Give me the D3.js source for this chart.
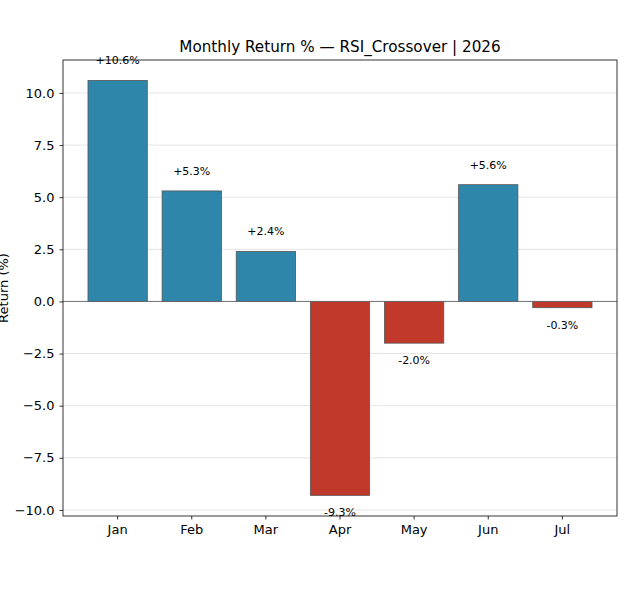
<!DOCTYPE html>
<html>
<head>
<meta charset="utf-8">
<script src="https://cdn.jsdelivr.net/npm/d3@7/dist/d3.min.js"></script>
<style>
  body{margin:0;background:#fff;}
  svg{font-family:"DejaVu Sans",sans-serif;}
</style>
</head>
<body>
<div id="chart"></div>
<script>
var months=["Jan","Feb","Mar","Apr","May","Jun","Jul"];
var returns=[10.6,5.3,2.4,-9.3,-2.0,5.6,-0.3];
var yTicks=[-10,-7.5,-5,-2.5,0,2.5,5,7.5,10];

var width=630,height=600;
var plotLeft=63,plotRight=617,plotTop=60,plotBottom=516;

var svg=d3.select("#chart").append("svg")
    .attr("width",width)
    .attr("height",height);

var xScale=d3.scaleBand()
    .domain(months)
    .range([plotLeft,plotRight])
    .paddingInner(0.2)
    .paddingOuter(0.337);

var yScale=d3.scaleLinear()
    .domain([-10.29,11.58])
    .range([plotBottom,plotTop]);

// grid
svg.append("g")
  .selectAll("line")
  .data(yTicks)
  .enter()
  .append("line")
  .attr("x1",plotLeft).attr("x2",plotRight)
  .attr("y1",function(d){return yScale(d);})
  .attr("y2",function(d){return yScale(d);})
  .attr("stroke","#dddddd")
  .attr("stroke-width",0.8);

// bars
svg.selectAll("rect.bar")
  .data(returns)
  .enter()
  .append("rect")
  .attr("class","bar")
  .attr("x",function(d,i){return xScale(months[i]);})
  .attr("y",function(d){return yScale(Math.max(d,0));})
  .attr("width",xScale.bandwidth())
  .attr("height",function(d){return Math.abs(yScale(d)-yScale(0));})
  .attr("fill",function(d){return d>=0?"#2e86ab":"#c0392b";})
  .attr("stroke","#555555")
  .attr("stroke-width",0.8);

// zero line
svg.append("line")
  .attr("x1",plotLeft).attr("x2",plotRight)
  .attr("y1",yScale(0)).attr("y2",yScale(0))
  .attr("stroke","#666666")
  .attr("stroke-width",0.9);

// value labels
svg.selectAll("text.val")
  .data(returns)
  .enter()
  .append("text")
  .attr("class","val")
  .attr("x",function(d,i){return xScale(months[i])+xScale.bandwidth()/2;})
  .attr("y",function(d){return d>=0?yScale(d)-20:yScale(d)+17;})
  .attr("dy","0.35em")
  .attr("text-anchor","middle")
  .attr("font-size",11)
  .attr("fill","#000")
  .text(function(d){return (d>=0?"+":"")+d.toFixed(1)+"%";});

// axes
var xAxis=d3.axisBottom(xScale).tickSize(3.5).tickPadding(5).tickSizeOuter(0);
var yAxis=d3.axisLeft(yScale).tickValues(yTicks).tickSize(3.5).tickPadding(5)
    .tickSizeOuter(0).tickFormat(d3.format(".1f"));

var gx=svg.append("g")
  .attr("transform","translate(0,"+plotBottom+")")
  .call(xAxis);
var gy=svg.append("g")
  .attr("transform","translate("+plotLeft+",0)")
  .call(yAxis);
[gx,gy].forEach(function(g){
  g.select(".domain").remove();
  g.selectAll("text").attr("font-size",13).attr("fill","#000").attr("font-family","DejaVu Sans");
  g.selectAll("line").attr("stroke","#000").attr("stroke-width",0.8);
});
gy.selectAll("text").text(function(d){return d3.format(".1f")(d).replace("-","\u2212");});

// frame
svg.append("rect")
  .attr("x",plotLeft).attr("y",plotTop)
  .attr("width",plotRight-plotLeft).attr("height",plotBottom-plotTop)
  .attr("fill","none")
  .attr("stroke","#000")
  .attr("stroke-width",0.8);

// title
svg.append("text")
  .attr("x",(plotLeft+plotRight)/2)
  .attr("y",plotTop-8)
  .attr("text-anchor","middle")
  .attr("font-size",15.2)
  .text("Monthly Return % \u2014 RSI_Crossover | 2026");

// y label
svg.append("text")
  .attr("transform","translate(3,"+((plotTop+plotBottom)/2)+") rotate(-90)")
  .attr("text-anchor","middle")
  .attr("dy","0.35em")
  .attr("font-size",13)
  .text("Return (%)");
</script>
</body>
</html>
